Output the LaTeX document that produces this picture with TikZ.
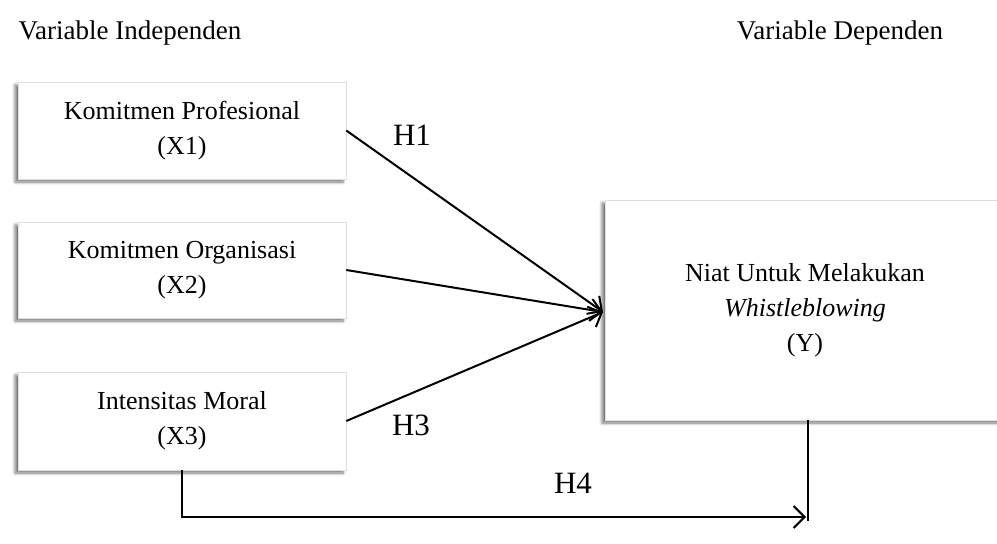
\documentclass[tikz,border=0pt]{standalone}
\usepackage{fontspec}
\setmainfont{Liberation Serif}
\usetikzlibrary{arrows.meta,shadows.blur}
\begin{document}
\begin{tikzpicture}[x=1pt,y=-1pt,
  varbox/.style={draw=gray!25, line width=0.6pt, fill=white, align=center, inner sep=0pt,
    blur shadow={shadow xshift=-3pt, shadow yshift=-3pt, shadow blur radius=3pt, shadow blur steps=6, shadow opacity=55},
    font=\fontsize{26}{35}\selectfont},
  hlab/.style={font=\fontsize{31}{36}\selectfont},
  headlab/.style={font=\fontsize{27}{32}\selectfont},
  link/.style={line width=2pt, -{Straight Barb[length=11pt,width=22pt,line width=2pt]}}
]
\useasboundingbox (0,0) rectangle (997,544);
\clip (0,0) rectangle (997,544);
\node[headlab] (hi) at (130,33) {Variable Independen};
\node[headlab] (hd) at (840,33) {Variable Dependen};
\node[varbox, minimum width=328pt, minimum height=97pt] (X1) at (182,130.5) {Komitmen Profesional\\(X1)};
\node[varbox, minimum width=328pt, minimum height=96pt] (X2) at (182,270) {Komitmen Organisasi\\(X2)};
\node[varbox, minimum width=328pt, minimum height=98pt] (X3) at (182,421) {Intensitas Moral\\(X3)};
\node[varbox, minimum width=400pt, minimum height=220pt] (Y) at (805,310) {Niat Untuk Melakukan\\\textit{Whistleblowing}\\(Y)};
\coordinate (tip) at (603,312);
\draw[link] (X1.east) -- (tip);
\draw[link] (X2.east) -- (tip);
\draw[link] (X3.east) -- (tip);
\node[hlab] (h1) at (412,135) {H1};
\node[hlab] (h3) at (411,425) {H3};
\node[hlab] (h4) at (573,483) {H4};
\coordinate (h4end) at (806,517);
\coordinate (ybot) at (808,521);
\draw[line width=1.8pt, -{Straight Barb[length=11pt,width=22pt,line width=2pt]}] (X3.south) |- (h4end);
\draw[line width=1.6pt] (Y.south -| ybot) -- (ybot);
\end{tikzpicture}
\end{document}
